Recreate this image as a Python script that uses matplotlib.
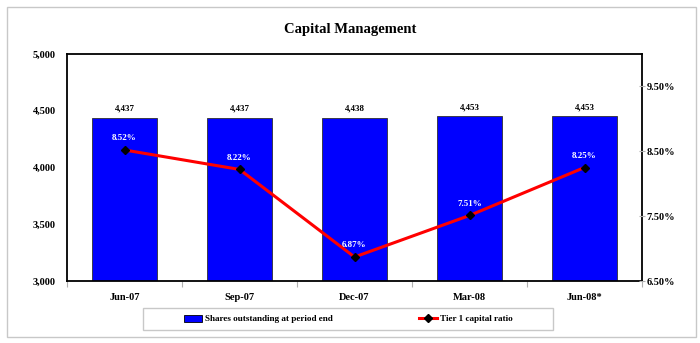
import matplotlib
matplotlib.use("Agg")
import matplotlib.pyplot as plt
from matplotlib.patches import Rectangle, Patch
from matplotlib.lines import Line2D
from matplotlib.ticker import FuncFormatter, FixedLocator

categories = ["Jun-07", "Sep-07", "Dec-07", "Mar-08", "Jun-08*"]
shares = [4437, 4437, 4438, 4453, 4453]
tier1 = [8.52, 8.22, 6.87, 7.51, 8.25]

plt.rcParams['font.family'] = ['Liberation Serif', 'DejaVu Serif']

W, H = 700, 343
fig = plt.figure(figsize=(7, 3.43), dpi=100)

def px(x0, y0, x1, y1):
    return [x0 / W, 1 - y1 / H, (x1 - x0) / W, (y1 - y0) / H]

fig.patches.append(Rectangle((7 / W, 1 - 337 / H), 689 / W, 330 / H,
                             transform=fig.transFigure, fill=False,
                             edgecolor='#c8c8c8', lw=1.0))
# legend frame
fig.patches.append(Rectangle((143 / W, 1 - 330 / H), 410 / W, 22 / H,
                             transform=fig.transFigure, fill=False,
                             edgecolor='#c8c8c8', lw=1.0))

ax = fig.add_axes(px(67, 54, 642, 281))
x = list(range(len(categories)))
ax.bar(x, shares, width=0.56, color='#0000FF', edgecolor='#303030', lw=0.6,
       bottom=0, zorder=2)
ax.set_ylim(3000, 5000)
ax.set_xlim(-0.5, len(categories) - 0.5)
ax.set_yticks([3000, 3500, 4000, 4500, 5000])
ax.yaxis.set_major_formatter(FuncFormatter(lambda v, p: f"{int(v):,}"))
ax.tick_params(axis='y', length=0, labelsize=7.5, pad=8)
ax.set_xticks(x)
ax.set_xticklabels(categories, fontsize=7.5, fontweight='bold')
ax.tick_params(axis='x', length=0, pad=9)
ax.xaxis.set_minor_locator(FixedLocator([i + 0.5 for i in range(-1, len(categories))]))
ax.tick_params(axis='x', which='minor', length=4, color='#b0b0b0', width=0.8)
for lab in ax.get_yticklabels():
    lab.set_fontweight('bold')
for s in ax.spines.values():
    s.set_linewidth(1.3)
    s.set_color('black')

for xi, v in zip(x, shares):
    ax.text(xi, v + 45, f"{v:,}", ha='center', va='bottom', fontsize=6.5,
            fontweight='bold', zorder=4)

ax2 = ax.twinx()
ax2.set_ylim(6.5, 10.0)
ax2.set_yticks([6.5, 7.5, 8.5, 9.5])
ax2.yaxis.set_major_formatter(FuncFormatter(lambda v, p: f"{v:.2f}%"))
ax2.tick_params(axis='y', length=5, direction='inout', color='#b0b0b0',
                labelsize=7.5, pad=1)
for lab in ax2.get_yticklabels():
    lab.set_fontweight('bold')
for s in ax2.spines.values():
    s.set_visible(False)
ax2.plot(x, tier1, color='#FF0000', lw=2.2, marker='D', markersize=4.5,
         markerfacecolor='black', markeredgecolor='black', zorder=5)
for xi, v in zip(x, tier1):
    ax2.text(xi, v + 0.12, f"{v:.2f}%", ha='center', va='bottom', fontsize=6.5,
             fontweight='bold', color='white', zorder=6)

fig.text(0.5, 1 - 30 / H, "Capital Management", ha='center', va='center',
         fontsize=10.5, fontweight='bold')

handles = [Patch(facecolor='#0000FF', edgecolor='black', lw=0.6),
           Line2D([0], [0], color='#FF0000', lw=2.2, marker='D', markersize=4.5,
                  markerfacecolor='black', markeredgecolor='black')]
leg = fig.legend(handles, ["Shares outstanding at period end", "Tier 1 capital ratio"],
                 loc='center', bbox_to_anchor=(348 / W, 1 - 319 / H), ncol=2,
                 frameon=False, columnspacing=9.4,
                 handlelength=2.0, handleheight=0.8, handletextpad=0.3,
                 prop={'weight': 'bold', 'size': 6.6})

fig.savefig("out.png", dpi=100)
